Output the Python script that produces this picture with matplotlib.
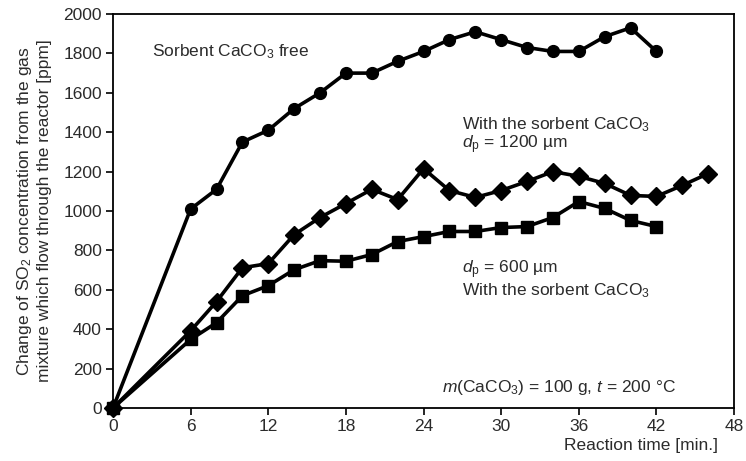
import matplotlib
matplotlib.use("Agg")
import matplotlib.pyplot as plt

plt.rcParams['font.family'] = ['Liberation Sans', 'DejaVu Sans']
plt.rcParams['mathtext.fontset'] = 'custom'
plt.rcParams['mathtext.rm'] = 'Liberation Sans'
plt.rcParams['mathtext.it'] = 'Liberation Sans:italic'

# Reaction time [min]
time_free = [0, 6, 8, 10, 12, 14, 16, 18, 20, 22, 24, 26, 28, 30, 32, 34, 36, 38, 40, 42]
so2_free = [0, 1010, 1110, 1350, 1410, 1520, 1600, 1700, 1700, 1760, 1810, 1870, 1910,
            1870, 1830, 1810, 1810, 1885, 1930, 1810]

time_1200 = [0, 6, 8, 10, 12, 14, 16, 18, 20, 22, 24, 26, 28, 30, 32, 34, 36, 38, 40, 42, 44, 46]
so2_1200 = [0, 392, 540, 712, 733, 880, 967, 1038, 1110, 1058, 1215, 1104, 1069, 1104,
            1150, 1200, 1176, 1140, 1079, 1074, 1130, 1190]

time_600 = [0, 6, 8, 10, 12, 14, 16, 18, 20, 22, 24, 26, 28, 30, 32, 34, 36, 38, 40, 42]
so2_600 = [0, 348, 433, 570, 621, 702, 748, 745, 779, 845, 870, 896, 896, 916, 921,
           967, 1048, 1013, 952, 921]

x_ticks = [0, 6, 12, 18, 24, 30, 36, 42, 48]
y_ticks = [0, 200, 400, 600, 800, 1000, 1200, 1400, 1600, 1800, 2000]

text_c = '#2b2b2b'

fig = plt.figure(figsize=(7.46, 4.61), dpi=100)
ax = fig.add_axes([0.1515, 0.115, 0.8325, 0.8546])

line_kw = dict(color='black', lw=2.6, clip_on=False, zorder=3)
ax.plot(time_free, so2_free, marker='o', ms=8.5, **line_kw)
ax.plot(time_1200, so2_1200, marker='D', ms=9, **line_kw)
ax.plot(time_600, so2_600, marker='s', ms=8, **line_kw)

ax.set_xlim(0, 48)
ax.set_ylim(0, 2000)
ax.set_xticks(x_ticks)
ax.set_yticks(y_ticks)
ax.tick_params(direction='out', length=5, width=1.2, labelsize=12.5, colors='black',
               labelcolor=text_c, pad=3)
for s in ax.spines.values():
    s.set_linewidth(1.3)

ax.set_xlabel('Reaction time [min.]', fontsize=12.5, color=text_c)
ax.xaxis.set_label_coords(0.974, -0.075)
ax.xaxis.label.set_horizontalalignment('right')
ax.set_ylabel('Change of SO$_2$ concentration from the gas\n'
              'mixture which flow through the reactor [ppm]',
              fontsize=12.5, color=text_c, linespacing=1.25, labelpad=8)

fs = 12.5
ax.text(3.0, 1810, 'Sorbent CaCO$_3$ free', fontsize=fs, color=text_c, va='center')
ax.text(27.0, 1440, 'With the sorbent CaCO$_3$', fontsize=fs, color=text_c, va='center')
ax.text(27.0, 1338, '$d_\\mathrm{p}$ = 1200 µm', fontsize=fs, color=text_c, va='center')
ax.text(27.0, 700, '$d_\\mathrm{p}$ = 600 µm', fontsize=fs, color=text_c, va='center')
ax.text(27.0, 596, 'With the sorbent CaCO$_3$', fontsize=fs, color=text_c, va='center')
ax.text(43.5, 105, '$m$(CaCO$_3$) = 100 g, $t$ = 200 °C', fontsize=fs, color=text_c,
        va='center', ha='right')

fig.savefig('out.png', dpi=100)
